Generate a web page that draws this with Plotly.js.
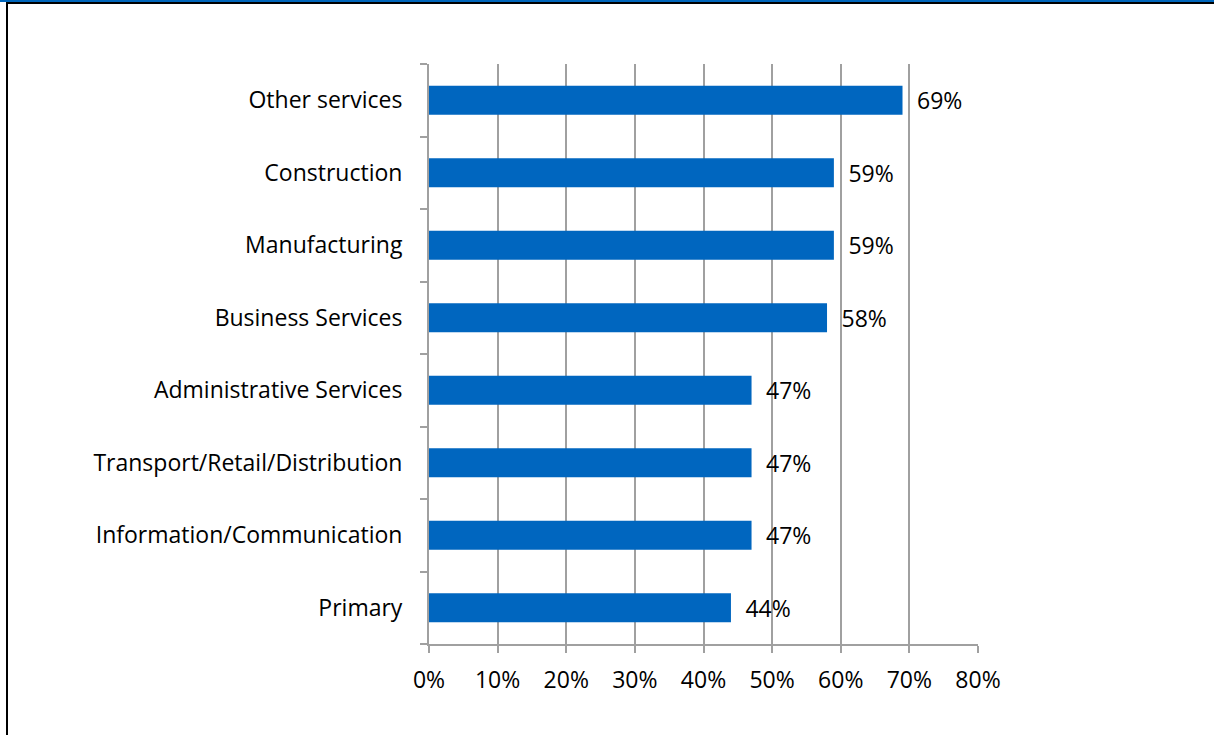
<!DOCTYPE html>
<html>
<head>
<meta charset="utf-8">
<script src="https://cdn.plot.ly/plotly-3.0.1.min.js"></script>
<style>
html,body{margin:0;padding:0;background:#fff;}
#wrap{position:relative;width:1214px;height:735px;overflow:hidden;}
#topblue{position:absolute;left:0;top:0;width:1214px;height:2px;background:#0066bb;}
#topblack{position:absolute;left:6px;top:2px;width:1208px;height:2px;background:#000;}
#leftblack{position:absolute;left:6px;top:2px;width:2px;height:733px;background:#000;}
#chart{position:absolute;left:0;top:0;width:1214px;height:735px;}
</style>
</head>
<body>
<div id="wrap">
<div id="chart"></div>
<div id="topblue"></div>
<div id="topblack"></div>
<div id="leftblack"></div>
</div>
<script>
const categories = ["Primary","Information/Communication","Transport/Retail/Distribution","Administrative Services","Business Services","Manufacturing","Construction","Other services"];
const values = [0.44,0.47,0.47,0.47,0.58,0.59,0.59,0.69];
const xTickVals = [0,0.1,0.2,0.3,0.4,0.5,0.6,0.7,0.8];
const xTickText = ["0%","10%","20%","30%","40%","50%","60%","70%","80%"];

const fontFam = "'Open Sans', sans-serif";
const trace = {
  type:'bar', orientation:'h',
  y: categories, x: values,
  marker:{color:'#0066bf'},
  text: values.map(v => '\u2002' + Math.round(v*100)+'%'),
  textposition:'outside',
  constraintext:'none',
  textfont:{family:fontFam,size:23,color:'#000'},
  cliponaxis:false,
  hoverinfo:'none'
};
const layout = {
  width:1214, height:735,
  margin:{l:429,r:236,t:64,b:91},
  paper_bgcolor:'rgba(0,0,0,0)', plot_bgcolor:'rgba(0,0,0,0)',
  bargap:0.6,
  showlegend:false,
  font:{family:fontFam,size:23,color:'#000'},
  xaxis:{range:[0,0.8],tickvals:xTickVals,ticktext:xTickText,
    showgrid:true,gridcolor:'#a0a0a0',gridwidth:2,
    showline:true,linecolor:'#a0a0a0',linewidth:2,
    ticks:'outside',ticklen:7,tickcolor:'#a0a0a0',tickwidth:2,
    ticklabelstandoff:7,zeroline:false,fixedrange:true},
  yaxis:{type:'category',showgrid:false,showline:true,linecolor:'#a0a0a0',linewidth:2,
    ticks:'outside',ticklen:7,tickcolor:'#a0a0a0',tickwidth:2,tickson:'boundaries',
    ticklabelstandoff:20,zeroline:false,fixedrange:true}
};
Plotly.newPlot('chart',[trace],layout,{displayModeBar:false,staticPlot:true});
</script>
</body>
</html>
